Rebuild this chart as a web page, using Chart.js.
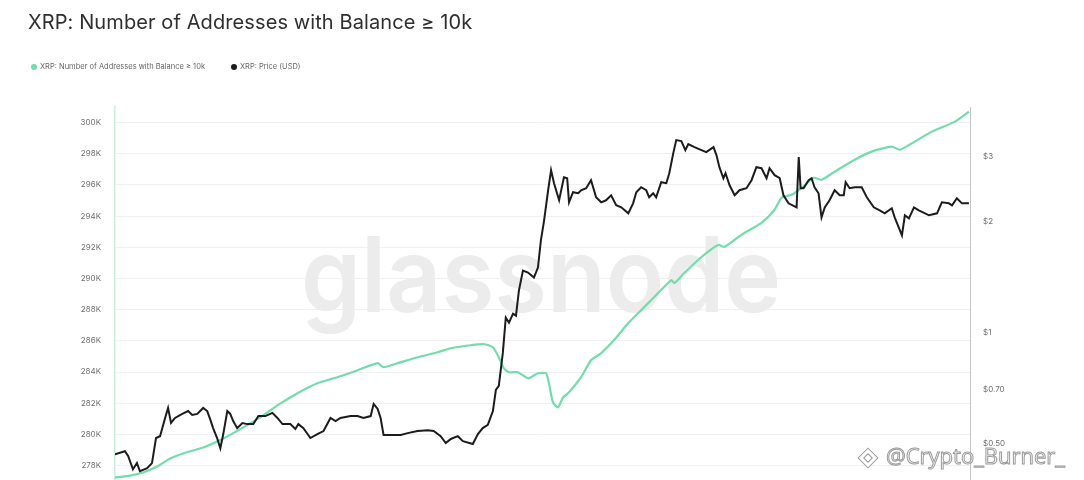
<!DOCTYPE html>
<html>
<head>
<meta charset="utf-8">
<script src="https://cdn.jsdelivr.net/npm/chart.js@4.4.1/dist/chart.umd.min.js"></script>
<style>
    html, body { margin: 0; padding: 0; background: #fff; }
    #wrap { position: relative; width: 1084px; height: 480px; overflow: hidden; font-family: Inter, "Open Sans", sans-serif; }
    #title { position: absolute; left: 28px; top: 10px; font-size: 20px; color: #2f2f2f; white-space: nowrap; letter-spacing: 0.1px; }
    #legend { position: absolute; left: 31px; top: 62px; font-size: 7.5px; color: #666; white-space: nowrap; }
    #legend span { position: absolute; top: 0; display: flex; align-items: center; }
    #legend i { display: inline-block; width: 6px; height: 6px; border-radius: 50%; margin-right: 3px; }
    #chart-box { position: absolute; left: 0; top: 0; width: 1084px; height: 500px; }
</style>
</head>
<body>
<div id="wrap">
    <div id="chart-box"><canvas id="chart"></canvas></div>
    <div id="title">XRP: Number of Addresses with Balance ≥ 10k</div>
    <div id="legend">
        <span style="left:0"><i style="background:#72dcaa"></i>XRP: Number of Addresses with Balance ≥ 10k</span>
        <span style="left:200px"><i style="background:#1c1c1c"></i>XRP: Price (USD)</span>
    </div>
</div>
<script>
// days since start of window (about late June 2024)
const priceDays = [0, 3.7, 4.9, 6.7, 8.2, 9.3, 12.0, 13.8, 15.3, 16.8, 18.7, 19.8, 20.9, 22.4, 25.1, 27.3, 28.8, 30.7, 32.9, 34.4,
    35.5, 36.6, 38.1, 39.3, 40.4, 41.9, 43.0, 44.1, 45.6, 47.5, 49.4, 51.6, 53.5, 56.1, 58.7, 60.6, 62.5, 65.4, 67.3, 68.4,
    70.3, 72.9, 75.5, 77.8, 80.4, 82.3, 84.1, 87.9, 90.5, 92.7, 95.4, 96.5, 98.0, 99.1, 100.2, 102.8, 106.6, 109.2, 112.9, 116.7,
    118.9, 121.5, 123.4, 125.3, 127.9, 129.8, 133.5, 135.4, 137.2, 139.1, 141.0, 142.1, 143.2, 144.7, 145.8, 147.0, 148.5, 149.6, 150.7, 152.2,
    154.1, 156.3, 157.8, 158.9, 160.1, 161.6, 162.7, 163.8, 165.7, 167.5, 168.7, 169.4, 170.9, 172.8, 173.9, 175.8, 177.6, 179.5, 181.4, 183.2,
    185.1, 187.0, 188.9, 191.5, 193.3, 194.5, 196.3, 198.2, 199.3, 200.8, 201.9, 203.8, 205.7, 206.8, 208.3, 209.4, 211.3, 212.8, 213.9, 216.2,
    218.8, 220.6, 223.3, 224.4, 225.5, 227.0, 227.8, 229.3, 231.2, 233.0, 235.6, 237.5, 239.3, 241.2, 243.1, 244.2, 246.1, 248.0, 249.4, 251.3,
    254.3, 255.1, 255.8, 256.9, 258.8, 259.9, 261.0, 262.5, 263.6, 264.8, 266.6, 268.5, 270.4, 271.9, 272.6, 274.1, 276.0, 278.6, 280.5, 283.1,
    285.3, 287.2, 289.8, 290.9, 292.4, 293.6, 294.7, 296.2, 298.1, 299.9, 303.7, 306.7, 308.5, 311.1, 312.3, 314.1, 316.0, 318.6];
const priceValues = [0.469, 0.478, 0.464, 0.427, 0.444, 0.422, 0.430, 0.444, 0.519, 0.525, 0.588, 0.626, 0.570, 0.588, 0.603, 0.614, 0.599, 0.603, 0.626, 0.614,
    0.584, 0.552, 0.519, 0.487, 0.532, 0.614, 0.603, 0.577, 0.552, 0.570, 0.566, 0.566, 0.595, 0.595, 0.607, 0.588, 0.566, 0.566, 0.549, 0.566,
    0.552, 0.519, 0.532, 0.542, 0.588, 0.577, 0.588, 0.595, 0.595, 0.588, 0.595, 0.642, 0.622, 0.588, 0.529, 0.529, 0.529, 0.535, 0.542, 0.545,
    0.542, 0.525, 0.503, 0.516, 0.525, 0.509, 0.500, 0.532, 0.552, 0.563, 0.614, 0.700, 0.718, 0.882, 1.098, 1.065, 1.126, 1.112, 1.300, 1.473,
    1.455, 1.410, 1.501, 1.777, 2.014, 2.429, 2.752, 2.538, 2.282, 2.635, 2.618, 2.253, 2.399, 2.384, 2.429, 2.460, 2.586, 2.325, 2.253, 2.282,
    2.354, 2.212, 2.184, 2.104, 2.239, 2.399, 2.475, 2.429, 2.325, 2.384, 2.325, 2.554, 2.538, 2.701, 3.061, 3.320, 3.299, 3.119, 3.238, 3.178,
    3.119, 3.080, 3.178, 3.023, 2.805, 2.618, 2.701, 2.506, 2.354, 2.429, 2.460, 2.586, 2.805, 2.787, 2.618, 2.787, 2.668, 2.618, 2.354, 2.239,
    2.184, 2.985, 2.460, 2.460, 2.586, 2.618, 2.475, 2.384, 2.052, 2.184, 2.282, 2.429, 2.354, 2.354, 2.554, 2.460, 2.475, 2.475, 2.325, 2.184,
    2.144, 2.104, 2.171, 2.052, 1.928, 1.834, 2.078, 2.039, 2.184, 2.144, 2.078, 2.104, 2.253, 2.239, 2.212, 2.311, 2.239, 2.239];

const addressDays = [0, 5.6, 10.5, 15.7, 20.6, 25.4, 32.9, 40.4, 47.9, 55.3, 60.6, 68.1, 75.5, 83.0, 90.5, 98.0, 100.2, 105.5, 112.9, 120.4,
    125.3, 132.8, 137.6, 141.0, 143.2, 145.1, 147.0, 150.3, 154.1, 157.8, 160.8, 161.9, 163.4, 165.3, 167.2, 169.4, 173.9, 177.6, 181.4, 186.2,
    191.5, 196.3, 201.2, 207.6, 208.7, 212.4, 218.8, 225.1, 227.4, 233.7, 241.2, 246.1, 248.7, 252.4, 256.2, 260.7, 263.6, 268.5, 276.0, 282.3,
    289.8, 292.8, 298.4, 304.8, 313.4, 318.6];
const addressValues = [277230, 277360, 277560, 277940, 278460, 278780, 279160, 279740, 280450, 281220, 281860, 282640, 283280, 283670, 284120, 284570, 284310, 284570, 284950, 285270,
    285530, 285720, 285790, 285590, 284950, 284240, 283990, 283990, 283600, 283920, 283920, 283280, 282060, 281740, 282380, 282700, 283670, 284760, 285210, 286050,
    287140, 287970, 288810, 289900, 289710, 290350, 291380, 292150, 292030, 292800, 293570, 294410, 295180, 295370, 295820, 296460, 296330, 296850, 297620, 298140,
    298460, 298260, 298780, 299420, 300060, 300710];

const leftTicks = [278000, 280000, 282000, 284000, 286000, 288000, 290000, 292000, 294000, 296000, 298000, 300000];
const rightTicks = [0.5, 0.7, 1, 2, 3];
const rightLabels = ['$0.50', '$0.70', '$1', '$2', '$3'];

const GREEN = '#72dcaa';
const BLACK = '#1c1c1c';

// big faint watermarks behind/over the lines
const watermarks = {
    id: 'watermarks',
    beforeDatasetsDraw(chart) {
        const ctx = chart.ctx;
        ctx.save();
        ctx.fillStyle = '#ececec';
        ctx.font = '600 104px Inter, sans-serif';
        ctx.textAlign = 'center';
        ctx.textBaseline = 'alphabetic';
        ctx.fillText('glassnode', 541, 312, 480);
        ctx.restore();
    },
    afterDraw(chart) {
        const ctx = chart.ctx;
        ctx.save();
        ctx.font = '22px "Open Sans", sans-serif';
        ctx.textAlign = 'left';
        ctx.textBaseline = 'middle';
        ctx.lineWidth = 1;
        ctx.strokeStyle = '#9a9a9a';
        ctx.fillStyle = 'rgba(255,255,255,0.85)';
        ctx.fillText('@Crypto_Burner_', 886, 458);
        ctx.strokeText('@Crypto_Burner_', 886, 458);
        // little logo diamond
        ctx.translate(868, 458);
        ctx.rotate(Math.PI / 4);
        ctx.fillStyle = 'rgba(255,255,255,0.85)';
        ctx.fillRect(-7, -7, 14, 14);
        ctx.strokeRect(-7, -7, 14, 14);
        ctx.strokeRect(-3, -3, 6, 6);
        ctx.restore();
    }
};

const ctx = document.getElementById('chart').getContext('2d');
new Chart(ctx, {
    type: 'line',
    data: {
        datasets: [{
            label: 'XRP: Price (USD)',
            data: priceDays.map((d, i) => ({ x: d, y: priceValues[i] })),
            borderColor: BLACK,
            borderWidth: 2,
            pointRadius: 0,
            tension: 0,
            yAxisID: 'yPrice',
            order: 1
        }, {
            label: 'XRP: Number of Addresses with Balance ≥ 10k',
            data: addressDays.map((d, i) => ({ x: d, y: addressValues[i] })),
            borderColor: GREEN,
            borderWidth: 2.2,
            pointRadius: 0,
            tension: 0.2,
            yAxisID: 'y',
            order: 2
        }]
    },
    options: {
        responsive: true,
        maintainAspectRatio: false,
        animation: false,
        layout: { padding: { top: 107, bottom: 0, left: 0, right: 0 } },
        plugins: {
            legend: { display: false },
            tooltip: { enabled: false }
        },
        scales: {
            x: {
                type: 'linear',
                min: 0,
                max: 319,
                display: false
            },
            y: {
                position: 'left',
                min: 277000,
                max: 301000,
                afterFit(scale) { scale.width = 115; },
                afterBuildTicks(scale) { scale.ticks = leftTicks.map(v => ({ value: v })); },
                border: { color: '#cdeedd', width: 1.5 },
                grid: { color: '#f0f0f0', drawTicks: false },
                ticks: {
                    padding: 14,
                    color: '#707070',
                    font: { family: 'Inter', size: 8 },
                    callback: v => (v / 1000) + 'K'
                }
            },
            yPrice: {
                type: 'logarithmic',
                position: 'right',
                min: 0.3966,
                max: 4.08,
                afterFit(scale) { scale.width = 114; },
                afterBuildTicks(scale) { scale.ticks = rightTicks.map(v => ({ value: v })); },
                border: { color: '#c4c4c4', width: 1 },
                grid: { drawOnChartArea: false, drawTicks: false },
                ticks: {
                    padding: 13,
                    color: '#707070',
                    font: { family: 'Inter', size: 8 },
                    callback: v => rightLabels[rightTicks.indexOf(v)]
                }
            }
        }
    },
    plugins: [watermarks]
});
</script>
</body>
</html>
